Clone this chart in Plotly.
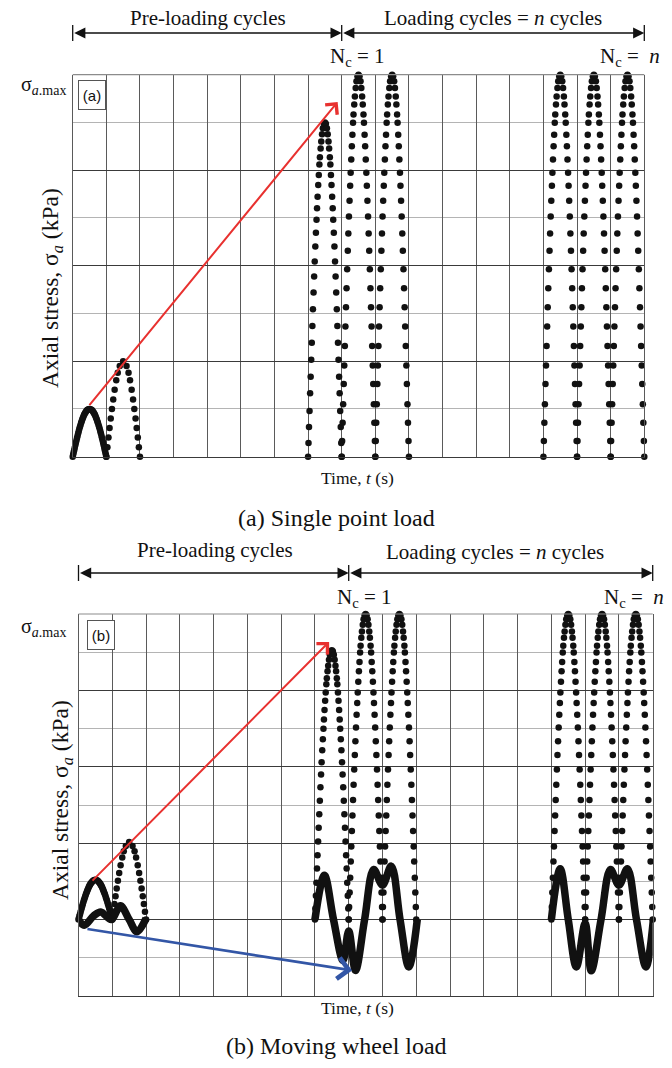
import plotly.graph_objects as go

W, H = 672, 1068

# ---------------- data ----------------
# Half-pulse sample templates: fraction of the cycle time and fraction of the peak
FINE_T = [0, .013, .028, .044, .061, .077, .094, .111, .128, .145, .163, .181, .198, .216,
          .234, .252, .267, .284, .302, .319, .337, .352, .373, .392, .416, .44, .47, .5]
FINE_H = [0, .041, .089, .137, .19, .239, .29, .341, .391, .441, .491, .539, .584, .629,
          .67, .709, .743, .778, .813, .843, .874, .896, .922, .943, .965, .983, .996, 1.0]
COARSE_T = [0, .032, .064, .097, .131, .167, .205, .247, .295, .34, .4, .5]
COARSE_H = [0, .1, .2, .3, .4, .5, .6, .7, .8, .88, .95, 1.0]

# Panel (a): single point load pulses (cycle start, peak in grid units of sigma)
A_START = [0, 1, 7, 8, 9, 14, 15, 16]
A_PEAK = [1.0, 2.0, 7.0, 8.0, 8.0, 8.0, 8.0, 8.0]
A_KIND = ["fine", "coarse", "fine", "fine", "fine", "fine", "fine", "fine"]

# Panel (b): moving wheel load pulses
B_START = [0, 1, 7, 8, 9, 14, 15, 16]
B_PEAK = [1.04, 2.03, 7.05, 8.0, 8.0, 8.0, 8.0, 8.0]
B_KIND = ["fine", "coarse", "fine", "fine", "fine", "fine", "fine", "fine"]

# Panel (b): low-amplitude oscillating component (key points)
B_WAVE1_X = [0.0, 0.17, 0.45, 0.66, 0.97, 1.24, 1.5, 1.73, 2.0]
B_WAVE1_Y = [0.0, -0.15, 0.1, 0.2, 0.0, 0.36, 0.0, -0.32, 0.03]
B_WAVE2_X = [7.0, 7.28, 7.55, 7.83, 8.0, 8.2, 8.47, 8.74, 9.0, 9.26, 9.52, 9.78, 10.03]
B_WAVE2_Y = [0.0, 1.16, 0.0, -1.07, -0.3, -1.33, 0.0, 1.31, 0.9, 1.4, 0.0, -1.24, 0.0]
B_WAVE3_X = [14.0, 14.26, 14.5, 14.74, 15.0, 15.18, 15.47, 15.75, 16.0, 16.25, 16.52, 16.8, 17.02]
B_WAVE3_Y = [0.0, 1.33, 0.0, -1.24, -0.1, -1.34, 0.0, 1.31, 0.9, 1.33, 0.0, -1.24, 0.0]

# Trend arrows (tail x, tail y, head x, head y)
A_RED = [0.46, 1.05, 7.88, 7.43]
B_RED = [0.37, 0.98, 7.42, 7.27]
B_BLUE = [0.22, -0.24, 8.1, -1.33]

# Cycle brackets (time grid units)
PRE_RANGE = [0, 8]
LOAD_RANGE = [8, 17]

# ---------------- layout geometry (pixels) ----------------
A_X = (72.7, 644.3); A_Y = (74.7, 456.7); A_XR = [0, 17]; A_YR = [0, 8]
B_X = (78.5, 652.7); B_Y = (614.0, 996.0); B_XR = [0, 17]; B_YR = [-2, 8]

TEMPL = {"fine": (FINE_T, FINE_H), "coarse": (COARSE_T, COARSE_H)}


def pulse_points(starts, peaks, kinds):
    xs, ys = [], []
    for s, p, k in zip(starts, peaks, kinds):
        T, Hh = TEMPL[k]
        for t, h in zip(T, Hh):
            xs.append(s + t); ys.append(p * h)
        for t, h in zip(T[-2::-1], Hh[-2::-1]):
            xs.append(s + 1 - t); ys.append(p * h)
    return xs, ys


def px2paper_x(px):
    return px / W


def px2paper_y(py):
    return 1 - py / H


def data2px_x(c, dom, rng):
    return dom[0] + (c - rng[0]) / (rng[1] - rng[0]) * (dom[1] - dom[0])


fig = go.Figure()

DOT = dict(color="#111111", size=6.5)
ax_, ay_ = pulse_points(A_START, A_PEAK, A_KIND)
fig.add_trace(go.Scatter(x=ax_, y=ay_, mode="markers", marker=DOT, cliponaxis=False,
                         xaxis="x", yaxis="y", showlegend=False, hoverinfo="skip"))
bx_, by_ = pulse_points(B_START, B_PEAK, B_KIND)
fig.add_trace(go.Scatter(x=bx_, y=by_, mode="markers", marker=DOT, cliponaxis=False,
                         xaxis="x2", yaxis="y2", showlegend=False, hoverinfo="skip"))
for wx, wy in [(B_WAVE1_X, B_WAVE1_Y), (B_WAVE2_X, B_WAVE2_Y), (B_WAVE3_X, B_WAVE3_Y)]:
    fig.add_trace(go.Scatter(x=wx, y=wy, mode="lines",
                             line=dict(color="#111111", width=7.5, shape="spline", smoothing=1.0),
                             cliponaxis=False, xaxis="x2", yaxis="y2", showlegend=False, hoverinfo="skip"))

VGRID = "#5a5a5a"
DARK = "#3a3a3a"
LIGHT = "#b4b4b4"


def xaxis(dom, rng):
    return dict(domain=[px2paper_x(dom[0]), px2paper_x(dom[1])], range=rng,
                tickmode="array", tickvals=list(range(1, 17)), showticklabels=False, ticks="",
                showgrid=True, gridcolor=VGRID, gridwidth=1, zeroline=False,
                showline=True, linecolor=DARK, linewidth=1.2, mirror=False, fixedrange=True)


def yaxis(dom, rng, major, minor):
    return dict(domain=[px2paper_y(dom[1]), px2paper_y(dom[0])], range=rng,
                tickmode="array", tickvals=major, showticklabels=False, ticks="",
                showgrid=True, gridcolor=DARK, gridwidth=1, zeroline=False,
                minor=dict(tickmode="array", tickvals=minor, showgrid=True, gridcolor=LIGHT, gridwidth=1, ticks=""),
                showline=True, linecolor=VGRID, linewidth=1.2, mirror=True, fixedrange=True)


fig.update_layout(
    width=W, height=H, autosize=False,
    margin=dict(l=0, r=0, t=0, b=0),
    paper_bgcolor="white", plot_bgcolor="white",
    xaxis=xaxis(A_X, A_XR), yaxis=yaxis(A_Y, A_YR, [2, 4, 6], [1, 3, 5, 7]),
    xaxis2=dict(xaxis(B_X, B_XR), anchor="y2"), yaxis2=dict(yaxis(B_Y, B_YR, [0, 2, 4, 6], [-1, 1, 3, 5, 7]), anchor="x2"),
)
fig.layout.xaxis.anchor = "y"
fig.layout.yaxis.anchor = "x"

SERIF = "Liberation Serif"
SANS = "Liberation Sans"
anns = []
shapes = []


def txt(text, px, py, size, family=SERIF, **kw):
    d = dict(text=text, x=px2paper_x(px), y=px2paper_y(py), xref="paper", yref="paper",
             showarrow=False, font=dict(family=family, size=size, color="#111111"),
             xanchor="center", yanchor="middle")
    d.update(kw)
    anns.append(d)


def panel_deco(xr, yr, dom_x, dom_y, top_py, box_px, red, blue, tag, title_px, time_py, cap_py, cap_text,
               pre_px, load_px, nc1_px, ncn_px, smax_py):
    # top border (grey)
    shapes.append(dict(type="line", xref="paper", yref="paper", x0=px2paper_x(dom_x[0]), x1=px2paper_x(dom_x[1]),
                       y0=px2paper_y(dom_y[0]), y1=px2paper_y(dom_y[0]), line=dict(color="#8c8c8c", width=1.2)))
    # cycle brackets
    ay = px2paper_y(top_py)
    for rng in (PRE_RANGE, LOAD_RANGE):
        anns.append(dict(text="", x=rng[1], ax=rng[0], xref=xr, axref=xr, y=ay, yref="paper", ayref="pixel", ay=0,
                         showarrow=True, arrowside="end+start", arrowhead=2, startarrowhead=2,
                         arrowsize=1.6, startarrowsize=1.6, arrowwidth=1.4, arrowcolor="#111111",
                         standoff=0, startstandoff=0))
    for c in (PRE_RANGE[0], PRE_RANGE[1], LOAD_RANGE[1]):
        xp = px2paper_x(data2px_x(c, dom_x, (0, 17)))
        shapes.append(dict(type="line", xref="paper", yref="paper", x0=xp, x1=xp,
                           y0=px2paper_y(top_py - 8), y1=px2paper_y(top_py + 8), line=dict(color="#111111", width=1.3)))
    txt("Pre-loading cycles", pre_px[0], pre_px[1], 21)
    txt("Loading cycles = <i>n</i> cycles", load_px[0], load_px[1], 21)
    txt("N<sub>c</sub> = 1", nc1_px[0], nc1_px[1], 21)
    txt("N<sub>c</sub> =  <i>n</i>", ncn_px[0], ncn_px[1], 21)
    txt("σ<sub><i>a</i>.max</sub>", 43, smax_py, 20)
    txt("Axial stress, σ<sub><i>a</i></sub> (kPa)", title_px[0], title_px[1], 23.5, textangle=-90)
    txt("Time, <i>t</i> (s)", 357, time_py, 17.5)
    txt(cap_text, 336, cap_py, 24)
    # panel tag box
    txt(tag, box_px[0], box_px[1], 15, family=SANS, width=24, height=26, bordercolor="#555555", borderwidth=1,
        bgcolor="white", borderpad=1)
    # trend arrows
    anns.append(dict(text="", x=red[2], y=red[3], ax=red[0], ay=red[1], xref=xr, yref=yr, axref=xr, ayref=yr,
                     showarrow=True, arrowhead=4, arrowsize=1.5, arrowwidth=2, arrowcolor="#e8312f", standoff=0))
    if blue is not None:
        anns.append(dict(text="", x=blue[2], y=blue[3], ax=blue[0], ay=blue[1], xref=xr, yref=yr, axref=xr, ayref=yr,
                         showarrow=True, arrowhead=4, arrowsize=1.6, arrowwidth=2.6, arrowcolor="#3356a6", standoff=0))


panel_deco("x", "y", A_X, A_Y, 33, (92, 95), A_RED, None, "(a)", (52, 288), 478, 518, "(a) Single point load",
           (208, 18), (493, 18), (357, 57), (630, 57), 86)
panel_deco("x2", "y2", B_X, B_Y, 573, (101, 635), B_RED, B_BLUE, "(b)", (62, 800), 1008, 1046, "(b) Moving wheel load",
           (215, 550), (495, 552), (364, 598), (634, 598), 627)

fig.update_layout(annotations=anns, shapes=shapes)
fig.write_html("out.html")
